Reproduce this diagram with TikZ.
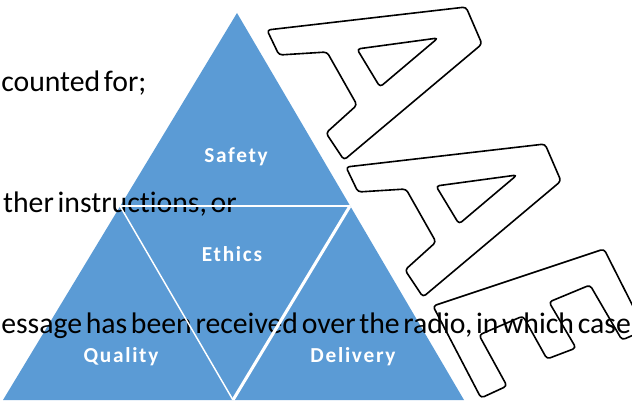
\documentclass[tikz,border=0pt]{standalone}
\usepackage{fontspec}
\setmainfont{Carlito}
\newfontfamily\bodyfont{Carlito}[WordSpace=0.55,Ligatures=NoCommon]
\newfontfamily\labelfont{Carlito}[LetterSpace=8]
\usetikzlibrary{positioning}
\definecolor{pyramidblue}{RGB}{91,155,213}
\tikzset{
  bodytext/.style={font=\bodyfont\fontsize{22.3}{26}\selectfont,text=black,inner sep=0pt},
  facelabel/.style={font=\labelfont\bfseries\fontsize{16}{19}\selectfont,
                    text=white,inner sep=0pt,anchor=base},
  face/.style={fill=pyramidblue,draw=none},
  seam/.style={draw=white,line width=1.1pt},
  wideseam/.style={seam,line width=2.3pt},
  letteredge/.style={draw=black,line width=1.2pt,rounded corners=2.5pt,line join=round},
}
\begin{document}
\begin{tikzpicture}[x=0.75pt,y=-0.75pt]
  \useasboundingbox (0,0) rectangle (632,403);
  \clip (0,0) rectangle (632,403);
  % pyramid corners and edge midpoints
  \coordinate (apex) at (237,13);
  \coordinate (bl) at (3,400);
  \coordinate (br) at (464,400);
  \coordinate (ml) at (120,206);
  \coordinate (mr) at (350,206);
  \coordinate (mb) at (233,400);
  \fill[face] (apex) -- (bl) -- (br) -- cycle;
  \node[facelabel] (safety)   at (236,162) {Safety};
  \node[facelabel] (ethics)   at (232,261) {Ethics};
  \node[facelabel] (quality)  at (121,362) {Quality};
  \node[facelabel] (delivery) at (353,362) {Delivery};
  % page text behind the picture
  \node[bodytext,anchor=base west] (line1) at (1,92) {counted for;};
  \node[bodytext,anchor=base east] (line2) at (237,212) {ther instructions, or};
  \node[bodytext,anchor=base west] (line3) at (1,333)
    {essage has been received over the radio, in which case};
  \draw[seam] (ml) -- (mr);
  \draw[seam] (ml) -- (mb);
  \draw[wideseam] (mr) -- (mb);
  % outlined letters
  \foreach \dx/\dy in {0/0,79/137}{
    \draw[letteredge,shift={(\dx,\dy)}] (267,30) -- (279,55) -- (327,52) -- (357,105)
      -- (326,133) -- (344,160) -- (482,44) -- (466,7) -- cycle;
    \draw[letteredge,shift={(\dx,\dy)}] (357,49) -- (438,38) -- (380,87) -- cycle;
  }
  \draw[letteredge] (433,306) -- (481,398) -- (507,386) -- (479,335) -- (523,316)
    -- (547,359) -- (576,348) -- (549,302) -- (590,285) -- (622,340) -- (645,330)
    -- (604,249) -- cycle;
\end{tikzpicture}
\end{document}
